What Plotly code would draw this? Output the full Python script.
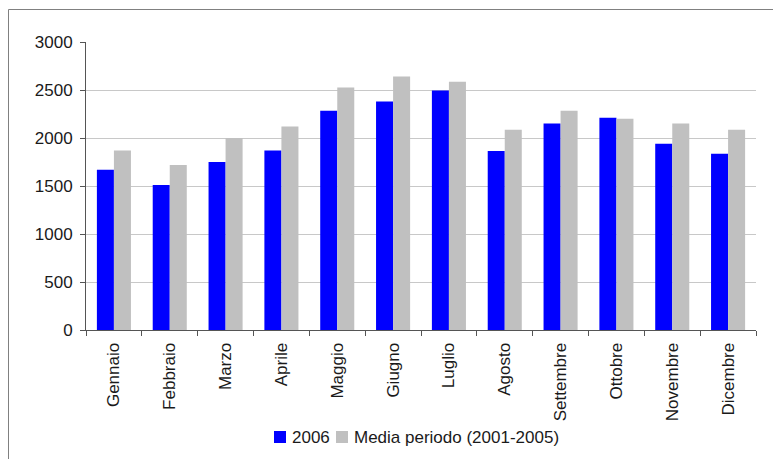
import plotly.graph_objects as go

# Monthly values: 2006 versus the 2001-2005 average
mesi = ["Gennaio", "Febbraio", "Marzo", "Aprile", "Maggio", "Giugno",
        "Luglio", "Agosto", "Settembre", "Ottobre", "Novembre", "Dicembre"]
valori_2006 = [1670, 1510, 1750, 1870, 2285, 2380, 2495, 1865, 2150, 2210, 1940, 1835]
media_2001_2005 = [1870, 1720, 2000, 2120, 2525, 2640, 2585, 2085, 2285, 2200, 2150, 2085]
y_ticks = [0, 500, 1000, 1500, 2000, 2500, 3000]
serie = ["2006", "Media periodo (2001-2005)"]
colori = ["#0000FF", "#C0C0C0"]

FONT = "Liberation Sans, Arial, sans-serif"
TXT = "#1a1a1a"
AXIS = "#555555"

fig = go.Figure()
fig.add_trace(go.Bar(x=mesi, y=valori_2006, name=serie[0],
                     marker=dict(color=colori[0], line=dict(width=0))))
fig.add_trace(go.Bar(x=mesi, y=media_2001_2005, name=serie[1],
                     marker=dict(color=colori[1], line=dict(width=0))))

# Plot area in pixels: x 86..756, y 42..330 (figure 773x459)
L, R, T, B = 86, 17, 42, 129
W, H = 773, 459
pw, ph = W - L - R, H - T - B

def px_x(p):
    return (p - L) / pw

def px_y(p):
    return (H - B - p) / ph

# Outer chart frame (top and left edges visible)
frame_x = px_x(8.5)
frame_y = px_y(9.5)
shapes = [
    dict(type="line", xref="paper", yref="paper", x0=frame_x, x1=1.2,
         y0=frame_y, y1=frame_y, line=dict(color="#808080", width=1)),
    dict(type="line", xref="paper", yref="paper", x0=frame_x, x1=frame_x,
         y0=frame_y, y1=-0.6, line=dict(color="#808080", width=1)),
]

# Compact legend row below the axis: swatch + label for each series
annotations = []
legend_items = [(274, 290), (336, 352)]
for (sx, tx), nome, col in zip(legend_items, serie, colori):
    shapes.append(dict(type="rect", xref="paper", yref="paper",
                       x0=px_x(sx), x1=px_x(sx + 12),
                       y0=px_y(443), y1=px_y(431),
                       fillcolor=col, line=dict(width=0)))
    annotations.append(dict(text=nome, xref="paper", yref="paper",
                            x=px_x(tx), y=px_y(437.5),
                            xanchor="left", yanchor="middle", showarrow=False,
                            font=dict(family=FONT, size=17, color=TXT)))

fig.update_layout(
    width=W, height=H,
    margin=dict(l=L, r=R, t=T, b=B, autoexpand=False),
    paper_bgcolor="white", plot_bgcolor="white",
    barmode="group", bargap=0.39, bargroupgap=0,
    font=dict(family=FONT, size=17, color=TXT),
    showlegend=False,
    shapes=shapes,
    annotations=annotations,
)

fig.update_xaxes(
    type="category", tickangle=-90, tickson="boundaries",
    ticks="outside", ticklen=5, tickcolor=AXIS, tickwidth=1,
    showline=True, linecolor=AXIS, linewidth=1,
    showgrid=False, ticklabelstandoff=5, automargin=False,
    tickfont=dict(family=FONT, size=17, color=TXT),
)
fig.update_yaxes(
    range=[0, 3000], tickvals=y_ticks, ticktext=[str(v) for v in y_ticks],
    ticks="outside", ticklen=5, tickcolor=AXIS, tickwidth=1,
    showline=True, linecolor=AXIS, linewidth=1,
    showgrid=True, gridcolor="#C8C8C8", gridwidth=1,
    zeroline=False, ticklabelstandoff=4, automargin=False,
    tickfont=dict(family=FONT, size=17, color=TXT),
)

fig.write_html("out.html")
